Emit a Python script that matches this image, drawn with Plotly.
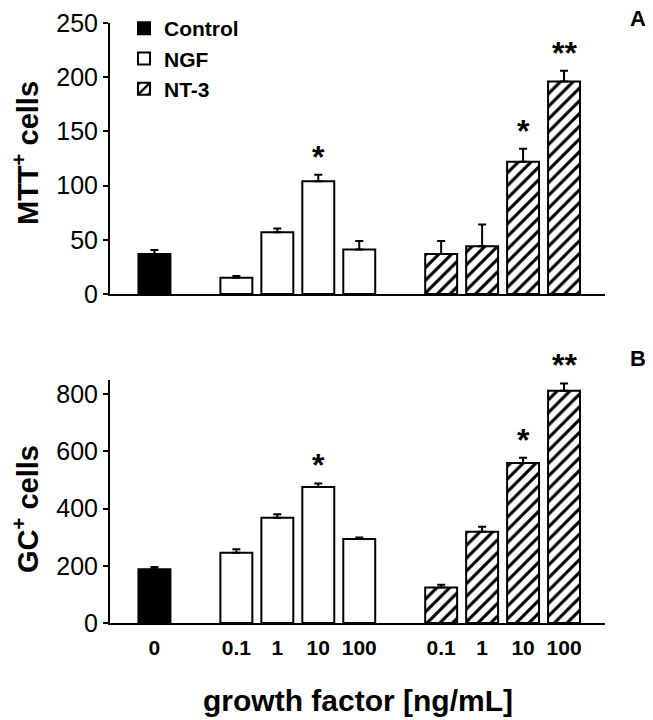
import plotly.graph_objects as go

# ---- data ----
positions = [0, 2, 3, 4, 5, 7, 8, 9, 10]
tick_labels = ["0", "0.1", "1", "10", "100", "0.1", "1", "10", "100"]

ctrl_pos = [0]
ngf_pos = [2, 3, 4, 5]
nt3_pos = [7, 8, 9, 10]

# Panel A: MTT+ cells
mtt_ctrl = [37]
mtt_ctrl_err = [3.5]
mtt_ngf = [15, 57, 104, 41]
mtt_ngf_err = [1.5, 3.5, 6, 8]
mtt_nt3 = [37, 44, 122, 196]
mtt_nt3_err = [12, 20, 12, 10]

# Panel B: GC+ cells
gc_ctrl = [188]
gc_ctrl_err = [8]
gc_ngf = [246, 368, 476, 294]
gc_ngf_err = [12, 12, 12, 5]
gc_nt3 = [124, 319, 560, 812]
gc_nt3_err = [10, 18, 18, 26]

# significance markers (position, label)
mtt_sig_pos = [4, 9, 10]
mtt_sig_lab = ["*", "*", "**"]
gc_sig_pos = [4, 9, 10]
gc_sig_lab = ["*", "*", "**"]

OFF = 8  # page body margin
W, H = 653 - OFF, 720 - OFF
FONT = "Liberation Sans, Arial, sans-serif"

def fx(px):
    return (px - OFF) / W

def fy(py):
    return (H - (py - OFF)) / H

fig = go.Figure()

def add_group(x, y, err, name, xa, ya, show, style):
    marker = dict(line=dict(color="black", width=2))
    if style == "control":
        marker["color"] = "black"
    elif style == "ngf":
        marker["color"] = "white"
    else:
        marker["color"] = "white"
        marker["pattern"] = dict(shape="/", fgcolor="black", bgcolor="white",
                                 fgopacity=1, size=9, solidity=0.34)
    fig.add_trace(go.Bar(
        x=x, y=y, name=name, marker=marker, width=0.78,
        error_y=dict(type="data", array=err, arrayminus=[0] * len(err),
                     symmetric=False, color="black", thickness=2, width=4),
        xaxis=xa, yaxis=ya, showlegend=show,
    ))

add_group(ctrl_pos, mtt_ctrl, mtt_ctrl_err, "Control", "x", "y", True, "control")
add_group(ngf_pos, mtt_ngf, mtt_ngf_err, "NGF", "x", "y", True, "ngf")
add_group(nt3_pos, mtt_nt3, mtt_nt3_err, "NT-3", "x", "y", True, "nt3")
add_group(ctrl_pos, gc_ctrl, gc_ctrl_err, "Control", "x2", "y2", False, "control")
add_group(ngf_pos, gc_ngf, gc_ngf_err, "NGF", "x2", "y2", False, "ngf")
add_group(nt3_pos, gc_nt3, gc_nt3_err, "NT-3", "x2", "y2", False, "nt3")

xdom = [fx(110), fx(605)]
xrange = [-1.085, 11.0]

axis_common = dict(showline=True, linecolor="black", linewidth=2,
                   showgrid=False, zeroline=False, fixedrange=True,
                   automargin=False)

fig.update_layout(
    width=W, height=H,
    margin=dict(l=0, r=0, t=0, b=0, pad=0),
    paper_bgcolor="white", plot_bgcolor="white",
    barmode="overlay",
    font=dict(family=FONT, color="black"),
    xaxis=dict(domain=xdom, range=xrange, anchor="y", showticklabels=False,
               ticks="", **axis_common),
    yaxis=dict(domain=[fy(294), fy(23)], range=[0, 250], anchor="x",
               tickvals=[0, 50, 100, 150, 200, 250], ticks="outside", ticklen=5,
               tickwidth=2, tickcolor="black",
               tickfont=dict(size=25, family=FONT), **axis_common),
    xaxis2=dict(domain=xdom, range=xrange, anchor="y2", tickvals=positions,
                ticktext=tick_labels, ticks="", ticklabelstandoff=5,
                tickfont=dict(size=21, family=FONT, weight="bold"),
                **axis_common),
    yaxis2=dict(domain=[fy(623), fy(380)], range=[0, 850], anchor="x2",
                tickvals=[0, 200, 400, 600, 800], ticks="outside", ticklen=5,
                tickwidth=2, tickcolor="black",
                tickfont=dict(size=25, family=FONT), **axis_common),
    legend=dict(x=fx(124), y=fy(8), xanchor="left", yanchor="top",
                bgcolor="rgba(0,0,0,0)", tracegroupgap=0, itemwidth=30,
                font=dict(size=21, family=FONT, weight="bold")),
)

annotations = []
def sig(pos_list, lab_list, vals_by_pos, xa, ya):
    for p, lab in zip(pos_list, lab_list):
        annotations.append(dict(x=p, y=vals_by_pos[p], xref=xa, yref=ya,
                                text="<b>%s</b>" % lab, showarrow=False,
                                yanchor="bottom", yshift=-2,
                                font=dict(size=32, family=FONT)))

mtt_tops = {}
for p, v, e in zip(ctrl_pos + ngf_pos + nt3_pos,
                   mtt_ctrl + mtt_ngf + mtt_nt3,
                   mtt_ctrl_err + mtt_ngf_err + mtt_nt3_err):
    mtt_tops[p] = v + e
gc_tops = {}
for p, v, e in zip(ctrl_pos + ngf_pos + nt3_pos,
                   gc_ctrl + gc_ngf + gc_nt3,
                   gc_ctrl_err + gc_ngf_err + gc_nt3_err):
    gc_tops[p] = v + e

sig(mtt_sig_pos, mtt_sig_lab, mtt_tops, "x", "y")
sig(gc_sig_pos, gc_sig_lab, gc_tops, "x2", "y2")

# axis titles and panel letters
annotations += [
    dict(x=fx(26), y=fy(153), xref="paper", yref="paper",
         text="<b>MTT<sup>+</sup> cells</b>", textangle=-90, showarrow=False,
         xanchor="center", yanchor="middle", font=dict(size=29, family=FONT)),
    dict(x=fx(26), y=fy(509), xref="paper", yref="paper",
         text="<b>GC<sup>+</sup> cells</b>", textangle=-90, showarrow=False,
         xanchor="center", yanchor="middle", font=dict(size=29, family=FONT)),
    dict(x=fx(358), y=fy(700), xref="paper", yref="paper",
         text="<b>growth factor [ng/mL]</b>", showarrow=False,
         xanchor="center", yanchor="middle", font=dict(size=30, family=FONT)),
    dict(x=fx(638), y=fy(8), xref="paper", yref="paper",
         text="<b>A</b>", showarrow=False, xanchor="center", yanchor="top",
         yshift=4, font=dict(size=22, family=FONT)),
    dict(x=fx(638), y=fy(358), xref="paper", yref="paper",
         text="<b>B</b>", showarrow=False, xanchor="center", yanchor="middle",
         font=dict(size=22, family=FONT)),
]
fig.update_layout(annotations=annotations)

fig.write_html("out.html")
